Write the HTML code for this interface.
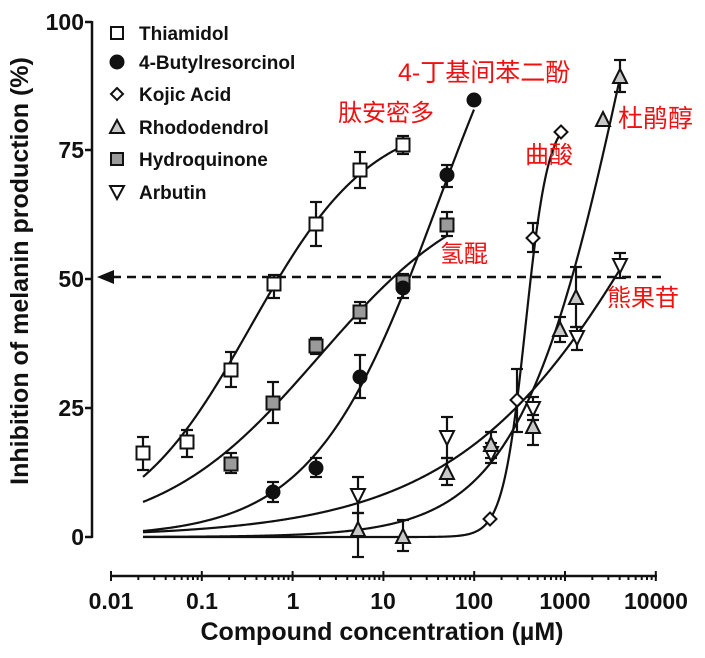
<!DOCTYPE html>
<html>
<head>
<meta charset="utf-8">
<style>
html,body{margin:0;padding:0;background:#fff;}
svg{display:block;}
.tk{font-family:"Liberation Sans",sans-serif;font-weight:bold;font-size:23px;fill:#111;}
.lg{font-family:"Liberation Sans",sans-serif;font-weight:bold;font-size:19px;fill:#111;}
.ax{font-family:"Liberation Sans",sans-serif;font-weight:bold;font-size:25px;fill:#111;}
.cn{font-family:"Liberation Sans","Noto Sans CJK SC",sans-serif;font-size:24px;fill:#ee1111;}
</style>
</head>
<body>
<svg id="s" width="705" height="658" viewBox="0 0 705 658" xmlns="http://www.w3.org/2000/svg">
<rect width="705" height="658" fill="#fff"/>
<!-- Y axis -->
<g stroke="#111" stroke-width="2.5" fill="none">
<line x1="92" y1="21" x2="92" y2="538"/>
<line x1="85" y1="22" x2="92" y2="22"/>
<line x1="85" y1="150" x2="92" y2="150"/>
<line x1="85" y1="279" x2="92" y2="279"/>
<line x1="85" y1="408" x2="92" y2="408"/>
<line x1="85" y1="537" x2="92" y2="537"/>
<!-- X axis -->
<line x1="110" y1="576" x2="657" y2="576"/>
</g>
<g id="xt" stroke="#111" stroke-width="2" fill="none"></g>
<text class="tk" x="84" y="30" text-anchor="end">100</text>
<text class="tk" x="84" y="158" text-anchor="end">75</text>
<text class="tk" x="84" y="287" text-anchor="end">50</text>
<text class="tk" x="84" y="416" text-anchor="end">25</text>
<text class="tk" x="84" y="545" text-anchor="end">0</text>
<text class="tk" x="111" y="609" text-anchor="middle">0.01</text>
<text class="tk" x="202" y="609" text-anchor="middle">0.1</text>
<text class="tk" x="293" y="609" text-anchor="middle">1</text>
<text class="tk" x="383" y="609" text-anchor="middle">10</text>
<text class="tk" x="474" y="609" text-anchor="middle">100</text>
<text class="tk" x="565" y="609" text-anchor="middle">1000</text>
<text class="tk" x="656" y="609" text-anchor="middle">10000</text>
<text class="ax" x="382" y="640" text-anchor="middle">Compound concentration (µM)</text>
<text class="ax" transform="translate(28,271) rotate(-90)" text-anchor="middle">Inhibition of melanin production (%)</text>
<!-- dashed 50% line -->
<line x1="112" y1="277" x2="666" y2="277" stroke="#111" stroke-width="2.5" stroke-dasharray="9,6"/>
<polygon points="97,277 114,270 114,284" fill="#111"/>
<g id="curves" stroke="#111" stroke-width="2.2" fill="none"></g>
<g id="errs" stroke="#111" stroke-width="2.2" fill="none"></g>
<g id="marks" stroke="#111" stroke-width="2"></g>
<!-- legend -->
<g stroke="#111" stroke-width="2">
<rect x="111" y="27" width="12" height="12" fill="#fff"/>
<circle cx="117" cy="62" r="6.5" fill="#111"/>
<polygon points="117,88 123,94 117,100 111,94" fill="#fff"/>
<polygon points="117,120 124,133 110,133" fill="#c8c8c8"/>
<rect x="111" y="153" width="12" height="12" fill="#9a9a9a"/>
<polygon points="110,186 124,186 117,199" fill="#fff"/>
</g>
<text class="lg" x="139" y="40">Thiamidol</text>
<text class="lg" x="139" y="69">4-Butylresorcinol</text>
<text class="lg" x="139" y="101">Kojic Acid</text>
<text class="lg" x="139" y="134">Rhododendrol</text>
<text class="lg" x="139" y="166">Hydroquinone</text>
<text class="lg" x="139" y="199">Arbutin</text>
<!-- red annotations -->
<text class="cn" x="398" y="81" style="font-size:25px">4-丁基间苯二酚</text>
<text class="cn" x="338" y="121">肽安密多</text>
<text class="cn" x="525" y="163">曲酸</text>
<text class="cn" x="618" y="127" style="font-size:25px">杜鹃醇</text>
<text class="cn" x="440" y="262">氢醌</text>
<text class="cn" x="607" y="306">熊果苷</text>
</svg>
<script>
(function(){
var NS="http://www.w3.org/2000/svg";
function el(parent,tag,attrs){var e=document.createElementNS(NS,tag);for(var k in attrs)e.setAttribute(k,attrs[k]);document.getElementById(parent).appendChild(e);return e;}
// x ticks
var x0=111,dec=90.8;
for(var d=0;d<=6;d++){
  var xx=x0+dec*d;
  el("xt","line",{x1:xx,y1:571,x2:xx,y2:581});
  if(d<6){for(var m=2;m<=9;m++){var xm=x0+dec*(d+Math.log10(m));el("xt","line",{x1:xm,y1:575,x2:xm,y2:580});}}
}
function py(v){return 537-5.15*v;}
var curves=[
 {T:82,k:0.01663,u:251,a:143,b:404},
 {T:70,k:0.01268,u:318.8,a:143,b:448},
 {T:130,k:0.01593,u:438.3,a:143,b:474},
 {T:82,k:0.0876,u:525.5,a:143,b:561},
 {T:200,k:0.0181,u:632,a:143,b:620},
 {T:150,k:0.00933,u:688,a:143,b:620}
];
curves.forEach(function(c){
  var d="";
  for(var x=c.a;x<=c.b+0.01;x+=1){
    var v=c.T/(1+Math.exp(-c.k*(x-c.u)));
    d+=(d?"L":"M")+x.toFixed(1)+","+py(v).toFixed(2);
  }
  el("curves","path",{d:d});
});
function eb(x,t,b){
  if(t==null)return;
  el("errs","line",{x1:x,y1:t,x2:x,y2:b});
  el("errs","line",{x1:x-6,y1:t,x2:x+6,y2:t});
  el("errs","line",{x1:x-6,y1:b,x2:x+6,y2:b});
}
function sq(x,y,f){el("marks","rect",{x:x-6.5,y:y-6.5,width:13,height:13,fill:f});}
function ci(x,y){el("marks","circle",{cx:x,cy:y,r:6.5,fill:"#111"});}
function di(x,y){el("marks","polygon",{points:(x)+","+(y-6.5)+" "+(x+6.5)+","+y+" "+x+","+(y+6.5)+" "+(x-6.5)+","+y,fill:"#fff"});}
function tu(x,y){el("marks","polygon",{points:x+","+(y-8)+" "+(x+7)+","+(y+6)+" "+(x-7)+","+(y+6),fill:"#c8c8c8"});}
function td(x,y){el("marks","polygon",{points:(x-7)+","+(y-6)+" "+(x+7)+","+(y-6)+" "+x+","+(y+8),fill:"#fff"});}
var thi=[[143,453,437,470],[187,442,430,457],[231,370,352,387],[274,284,275,298],[316,224,202,246],[360,170,152,188],[403,145,136,154]];
var hyd=[[231,464,453,473],[273,403,382,423],[316,346,338,354],[360,312,302,323],[403,282,274,290],[447,225,212,236]];
var but=[[273,492,482,502],[316,468,458,477],[360,377,355,398],[403,288,278,298],[447,175,165,187],[474,100]];
var koj=[[490,519],[517,400,369,432],[533,238,223,252],[561,132]];
var rho=[[358,530,513,557],[403,537,520,551],[447,473,458,485],[491,445,432,458],[533,427,415,445],[560,330,317,342],[576,298,267,327],[603,120],[620,77,60,92]];
var arb=[[358,495,477,513],[447,437,417,458],[491,453,443,463],[533,408,397,420],[577,337,327,350],[620,265,253,278]];
[thi,hyd,but,koj,rho,arb].forEach(function(s){s.forEach(function(p){eb(p[0],p[2],p[3]);});});
arb.forEach(function(p){td(p[0],p[1]);});
rho.forEach(function(p){tu(p[0],p[1]);});
koj.forEach(function(p){di(p[0],p[1]);});
hyd.forEach(function(p){sq(p[0],p[1],"#9a9a9a");});
but.forEach(function(p){ci(p[0],p[1]);});
thi.forEach(function(p){sq(p[0],p[1],"#fff");});
})();
</script>
</body>
</html>
